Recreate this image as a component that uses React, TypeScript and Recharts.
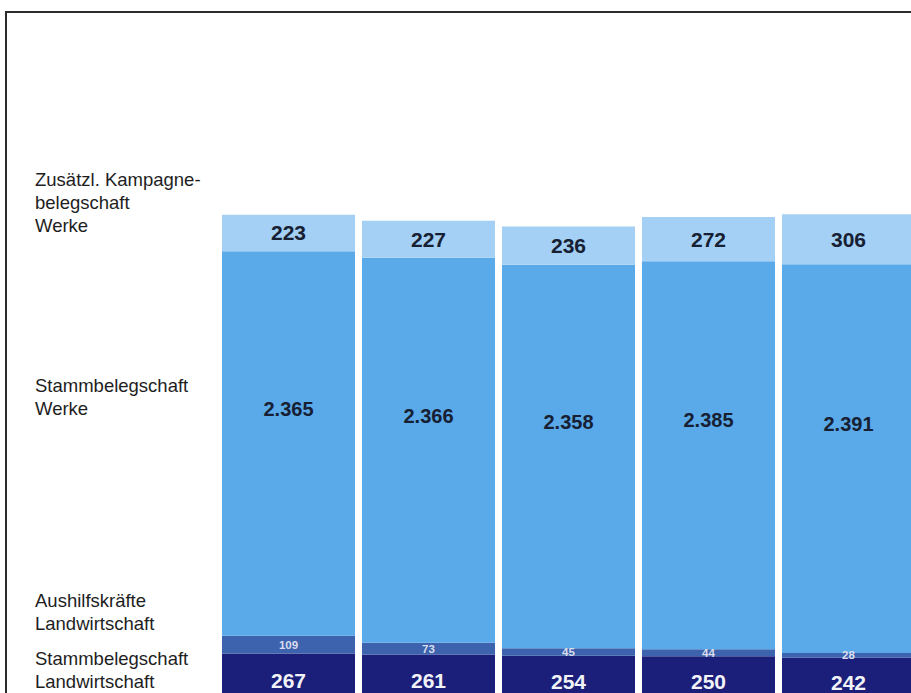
import * as React from 'react';
import { BarChart, Bar, XAxis, YAxis, LabelList } from 'recharts';

// columns (the year row is cut off in the source picture)
const columns = ['1', '2', '3', '4', '5'];

// series, bottom to top of each stack
const stammLandwirtschaft = [267, 261, 254, 250, 242];
const aushilfenLandwirtschaft = [109, 73, 45, 44, 28];
const stammWerke = [2365, 2366, 2358, 2385, 2391];
const kampagneWerke = [223, 227, 236, 272, 306];

const rowLabels = [
  ['Zusätzl. Kampagne-', 'belegschaft', 'Werke'],
  ['Stammbelegschaft', 'Werke'],
  ['Aushilfskräfte', 'Landwirtschaft'],
  ['Stammbelegschaft', 'Landwirtschaft'],
];

const data = columns.map((c, i) => ({
  col: c,
  stammLw: stammLandwirtschaft[i],
  aushilfeLw: aushilfenLandwirtschaft[i],
  stammW: stammWerke[i],
  kampagneW: kampagneWerke[i],
}));

const FONT = '"Liberation Sans", Arial, Helvetica, sans-serif';

// German thousands separator: 2365 -> 2.365
const fmt = (v: number) => String(v).replace(/\B(?=(\d{3})+(?!\d))/g, '.');

function makeLabel(color: string, size: number, pos: number) {
  return (props: any) => {
    const { x, y, width, height, value } = props;
    return (
      <text
        x={Number(x) + Number(width) / 2}
        y={Number(y) + Number(height) * pos}
        textAnchor="middle"
        dominantBaseline="central"
        fill={color}
        fontSize={size}
        fontWeight="bold"
        fontFamily={FONT}
      >
        {fmt(Number(value))}
      </text>
    );
  };
}

const labelTops = [168.3, 374, 589, 647.3];

export default function App() {
  return (
    <div
      style={{
        position: 'absolute',
        left: 0,
        top: 0,
        width: 911,
        height: 693,
        overflow: 'hidden',
        background: '#fff',
      }}
    >
      {/* scanned frame: top and left rule */}
      <div style={{ position: 'absolute', left: 5, top: 11, width: 906, height: 2, background: '#2b2b2b' }} />
      <div style={{ position: 'absolute', left: 5, top: 11, width: 2, height: 682, background: '#2b2b2b' }} />

      {rowLabels.map((lines, i) => (
        <div
          key={i}
          style={{
            position: 'absolute',
            left: 35,
            top: labelTops[i],
            fontFamily: FONT,
            fontSize: 18.5,
            lineHeight: '23px',
            color: '#1e1e1e',
            whiteSpace: 'nowrap',
          }}
        >
          {lines.map((l) => (
            <div key={l}>{l}</div>
          ))}
        </div>
      ))}

      <div style={{ position: 'absolute', left: 0, top: 0 }}>
        <BarChart
          width={940}
          height={720}
          data={data}
          margin={{ top: 209, right: 22, bottom: 23, left: 218 }}
          barSize={133}
        >
          <XAxis dataKey="col" hide />
          <YAxis hide domain={[0, 3000]} />
          <Bar dataKey="stammLw" stackId="a" fill="#1b1f7a" isAnimationActive={false}>
            <LabelList dataKey="stammLw" content={makeLabel('#f2f3f8', 21, 0.62)} />
          </Bar>
          <Bar dataKey="aushilfeLw" stackId="a" fill="#3d63ae" isAnimationActive={false}>
            <LabelList dataKey="aushilfeLw" content={makeLabel('#d9dded', 11.5, 0.5)} />
          </Bar>
          <Bar dataKey="stammW" stackId="a" fill="#5aaaea" isAnimationActive={false}>
            <LabelList dataKey="stammW" content={makeLabel('#172033', 20, 0.41)} />
          </Bar>
          <Bar dataKey="kampagneW" stackId="a" fill="#a3d0f4" isAnimationActive={false}>
            <LabelList dataKey="kampagneW" content={makeLabel('#172033', 21, 0.5)} />
          </Bar>
        </BarChart>
      </div>
    </div>
  );
}
